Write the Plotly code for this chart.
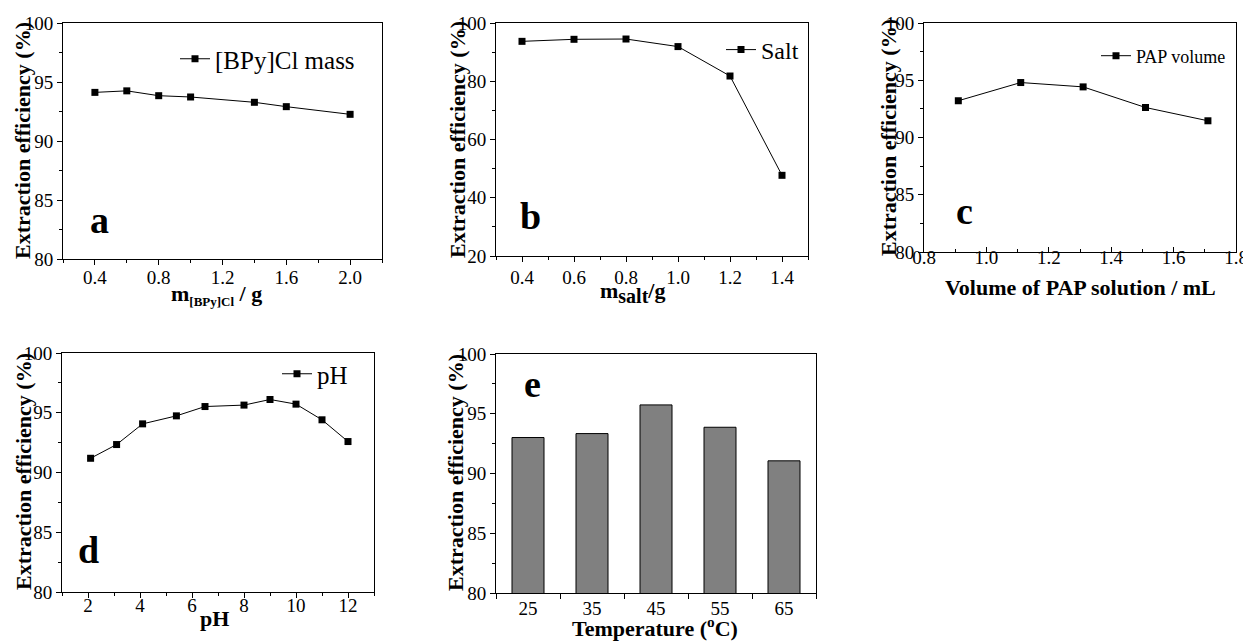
import plotly.graph_objects as go

W, H = 1243, 642
FONT = "Liberation Serif"

# ---- data ----
bpy_mass = [0.4, 0.6, 0.8, 1.0, 1.4, 1.6, 2.0]
bpy_eff = [94.12, 94.25, 93.84, 93.73, 93.28, 92.91, 92.26]

salt_mass = [0.4, 0.6, 0.8, 1.0, 1.2, 1.4]
salt_eff = [93.7, 94.4, 94.5, 91.9, 81.8, 47.7]

pap_vol = [0.91, 1.11, 1.31, 1.51, 1.71]
pap_eff = [93.21, 94.80, 94.42, 92.62, 91.46]

ph_vals = [2.1, 3.1, 4.1, 5.4, 6.5, 8.0, 9.0, 10.0, 11.0, 12.0]
ph_eff = [91.19, 92.34, 94.07, 94.74, 95.52, 95.64, 96.11, 95.72, 94.41, 92.59]

temp_labels = ["25", "35", "45", "55", "65"]
temp_eff = [93.01, 93.34, 95.74, 93.87, 91.06]


def px(x):
    return x / W


def py(y):
    return 1 - y / H


fig = go.Figure()

line_style = dict(color="black", width=1)
mk = dict(symbol="square", size=7, color="black")

fig.add_trace(go.Scatter(x=bpy_mass, y=bpy_eff, mode="lines+markers", name="[BPy]Cl mass",
                         line=line_style, marker=mk, xaxis="x", yaxis="y", legend="legend"))
fig.add_trace(go.Scatter(x=salt_mass, y=salt_eff, mode="lines+markers", name="Salt",
                         line=line_style, marker=mk, xaxis="x2", yaxis="y2", legend="legend2"))
fig.add_trace(go.Scatter(x=pap_vol, y=pap_eff, mode="lines+markers", name="PAP volume",
                         line=line_style, marker=mk, xaxis="x3", yaxis="y3", legend="legend3"))
fig.add_trace(go.Scatter(x=ph_vals, y=ph_eff, mode="lines+markers", name="pH",
                         line=line_style, marker=mk, xaxis="x4", yaxis="y4", legend="legend4"))
fig.add_trace(go.Bar(x=list(range(len(temp_labels))), y=temp_eff, width=0.5, showlegend=False,
                     marker=dict(color="#808080", line=dict(color="black", width=1)),
                     xaxis="x5", yaxis="y5"))

# domains in pixels: (x0, x1, ytop, ybottom)
boxes = {
    1: (63, 382, 23, 259),
    2: (496, 808, 23, 256),
    3: (924, 1236, 23, 252),
    4: (62, 374, 353, 592),
    5: (496, 816, 354, 593),
}

tickfont = dict(family=FONT, size=19, color="black")


def ax_common(ticks="outside"):
    return dict(showline=True, linecolor="black", linewidth=1, mirror=True,
                ticks=ticks, ticklen=5, tickwidth=1, tickcolor="black", automargin=False,
                tickfont=tickfont, showgrid=False, zeroline=False, fixedrange=True,
                ticklabeloverflow="allow")


xcfg = {
    1: dict(range=[0.2, 2.2], tick0=0.4, dtick=0.4, tickformat=".1f", ticklabelstandoff=-4,
            minor=dict(ticks="outside", ticklen=3, tick0=0.2, dtick=0.2, tickcolor="black")),
    2: dict(range=[0.3, 1.5], tick0=0.4, dtick=0.2, tickformat=".1f", ticklabelstandoff=-1,
            minor=dict(ticks="outside", ticklen=3, tick0=0.3, dtick=0.1, tickcolor="black")),
    3: dict(range=[0.8, 1.8], tick0=0.8, dtick=0.2, tickformat=".1f", ticklabelstandoff=-12,
            minor=dict(ticks="inside", ticklen=3, tick0=0.9, dtick=0.1, tickcolor="black")),
    4: dict(range=[1, 13], tick0=2, dtick=2, ticklabelstandoff=-9,
            minor=dict(ticks="outside", ticklen=3, tick0=1, dtick=1, tickcolor="black")),
    5: dict(range=[-0.5, 4.5], tickvals=list(range(len(temp_labels))), ticktext=temp_labels,
            ticklabelstandoff=-2,
            minor=dict(ticks="outside", ticklen=5, tick0=0.5, dtick=1, tickcolor="black")),
}
ycfg = {
    1: dict(range=[80, 100], tick0=80, dtick=5,
            minor=dict(ticks="outside", ticklen=3, tick0=80, dtick=2.5, tickcolor="black")),
    2: dict(range=[20, 100], tick0=20, dtick=20,
            minor=dict(ticks="outside", ticklen=3, tick0=20, dtick=10, tickcolor="black")),
    3: dict(range=[80, 100], tick0=80, dtick=5,
            minor=dict(ticks="outside", ticklen=3, tick0=80, dtick=2.5, tickcolor="black")),
    4: dict(range=[80, 100], tick0=80, dtick=5,
            minor=dict(ticks="outside", ticklen=3, tick0=80, dtick=2.5, tickcolor="black")),
    5: dict(range=[80, 100], tick0=80, dtick=5,
            minor=dict(ticks="outside", ticklen=3, tick0=80, dtick=2.5, tickcolor="black")),
}

layout = {}
for i, (x0, x1, yt, yb) in boxes.items():
    s = "" if i == 1 else str(i)
    xa = ax_common("inside" if i == 3 else "outside")
    if i == 5:
        xa["ticks"] = ""
    xa.update(xcfg[i])
    xa.update(domain=[px(x0), px(x1)], anchor="y" + s)
    ya = ax_common()
    ya.update(ycfg[i])
    ya.update(domain=[py(yb), py(yt)], anchor="x" + s)
    layout["xaxis" + s] = xa
    layout["yaxis" + s] = ya

legfont = dict(family=FONT, size=25, color="black")
leg = dict(bgcolor="rgba(0,0,0,0)", borderwidth=0, xanchor="left", yanchor="middle",
           itemclick=False, itemdoubleclick=False)
layout["legend"] = dict(leg, x=px(175), y=py(59), font=legfont)
layout["legend2"] = dict(leg, x=px(721), y=py(50), font=dict(legfont, size=24))
layout["legend3"] = dict(leg, x=px(1096), y=py(56), font=dict(legfont, size=18))
layout["legend4"] = dict(leg, x=px(277), y=py(374), font=legfont)

annots = []
title_font = dict(family=FONT, size=22, color="black")

# y-axis titles
for (xc, yc) in [(23, 141), (457, 140), (888, 138), (23, 472), (455, 473)]:
    annots.append(dict(text="<b>Extraction efficiency (%)</b>", x=px(xc), y=py(yc),
                       xref="paper", yref="paper", textangle=-90, showarrow=False,
                       xanchor="center", yanchor="middle", font=title_font))

# x-axis titles
xtitles = [
    ("<b>m<sub><span style='font-size:13px'>[BPy]Cl</span></sub> / g</b>", 216, 295),
    ("<b>m<sub><span style='font-size:20px'>salt</span></sub>/g</b>", 632, 292),
    ("<b>Volume of PAP solution / mL</b>", 1080, 287),
    ("<b>pH</b>", 214, 618),
    ("<b>Temperature (<sup>o</sup>C)</b>", 655, 627),
]
for t, xc, yc in xtitles:
    annots.append(dict(text=t, x=px(xc), y=py(yc), xref="paper", yref="paper",
                       showarrow=False, xanchor="center", yanchor="middle", font=title_font))

# panel letters
letter_font = dict(family=FONT, size=38, color="black")
for t, xc, yc in [("a", 99, 220), ("b", 530, 216), ("c", 964, 211), ("d", 88, 550), ("e", 532, 384)]:
    annots.append(dict(text="<b>%s</b>" % t, x=px(xc), y=py(yc), xref="paper", yref="paper",
                       showarrow=False, xanchor="center", yanchor="middle", font=letter_font))

fig.update_layout(
    width=W, height=H,
    margin=dict(l=0, r=0, t=0, b=0, autoexpand=False),
    paper_bgcolor="white", plot_bgcolor="white",
    font=dict(family=FONT, color="black"),
    annotations=annots,
    **layout,
)

fig.write_html("out.html",
               config={"displayModeBar": False, "staticPlot": False},
               post_script="document.body.style.margin='0';document.body.style.overflow='hidden';")
